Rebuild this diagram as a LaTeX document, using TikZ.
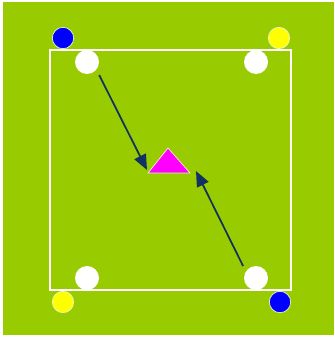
\documentclass[tikz,border=0pt]{standalone}
\usetikzlibrary{arrows.meta}
\definecolor{pitchgreen}{RGB}{153,204,0}
\definecolor{runnavy}{RGB}{18,50,98}
\definecolor{rimcolor}{RGB}{235,245,200}
\definecolor{coneblue}{RGB}{0,0,255}
\definecolor{coneyellow}{RGB}{255,255,0}
\definecolor{targetpink}{RGB}{255,0,255}
\begin{document}
\begin{tikzpicture}[x=0.03cm,y=-0.03cm,
    player/.style={circle,fill=white,inner sep=0pt,minimum size=0.72cm},
    cone/.style={circle,draw=rimcolor,line width=0.6pt,inner sep=0pt,minimum size=0.64cm},
    run/.style={runnavy,line width=1.5pt,shorten <=0.18cm,-{Triangle[length=0.46cm,width=0.38cm]}}]
  \useasboundingbox (0,0) rectangle (334,340);
  \fill[pitchgreen] (3,2) rectangle (334,335);
  \draw[white,line width=1.2pt] (50,50) rectangle (291,290);
  % corner markers
  \node[cone,fill=coneblue] (coneTL) at (63,38) {};
  \node[cone,fill=coneyellow] (coneTR) at (279,38) {};
  \node[cone,fill=coneyellow] (coneBL) at (63,302) {};
  \node[cone,fill=coneblue] (coneBR) at (280,302) {};
  % players
  \node[player] (pTL) at (87,62) {};
  \node[player] (pTR) at (256,62) {};
  \node[player] (pBL) at (87,278) {};
  \node[player] (pBR) at (256,278) {};
  % target
  \filldraw[fill=targetpink,draw=rimcolor,line width=0.6pt] (148,173) -- (168,148) -- (190,173) -- cycle;
  \coordinate (goalL) at (147,170);
  \coordinate (goalR) at (196,171);
  \draw[run] (pTL.-39) -- (goalL);
  \draw[run] (pBR.147) -- (goalR);
\end{tikzpicture}
\end{document}
